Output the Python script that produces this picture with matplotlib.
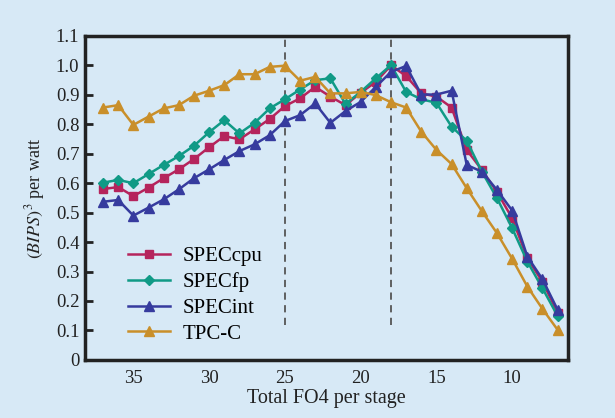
import matplotlib
matplotlib.use("Agg")
import matplotlib.pyplot as plt

# FO4 per stage, 37 down to 7
fo4 = list(range(37, 6, -1))

spec_cpu = [0.580, 0.587, 0.556, 0.585, 0.617, 0.647, 0.682, 0.722, 0.760, 0.749,
            0.783, 0.818, 0.862, 0.888, 0.927, 0.894, 0.865, 0.907, 0.944, 1.000,
            0.964, 0.905, 0.894, 0.857, 0.713, 0.645, 0.570, 0.481, 0.345, 0.265,
            0.160]
spec_fp = [0.602, 0.611, 0.600, 0.631, 0.662, 0.692, 0.727, 0.773, 0.814, 0.769,
           0.805, 0.854, 0.885, 0.918, 0.950, 0.956, 0.869, 0.910, 0.956, 1.001,
           0.910, 0.885, 0.873, 0.792, 0.744, 0.639, 0.549, 0.447, 0.334, 0.243,
           0.149]
spec_int = [0.537, 0.543, 0.490, 0.517, 0.545, 0.579, 0.617, 0.647, 0.679, 0.709,
            0.732, 0.763, 0.811, 0.831, 0.871, 0.805, 0.845, 0.876, 0.927, 0.978,
            0.998, 0.901, 0.901, 0.914, 0.662, 0.639, 0.577, 0.507, 0.351, 0.274,
            0.170]
tpc_c = [0.857, 0.865, 0.798, 0.826, 0.854, 0.865, 0.897, 0.914, 0.933, 0.970,
         0.970, 0.995, 0.999, 0.948, 0.961, 0.905, 0.905, 0.910, 0.899, 0.875,
         0.857, 0.775, 0.713, 0.665, 0.583, 0.505, 0.430, 0.343, 0.249, 0.173,
         0.102]

markers_at = [25, 18]   # dashed guides

BG = "#d7e9f6"
plt.rcParams["font.family"] = ["Liberation Serif", "DejaVu Serif"]
plt.rcParams["mathtext.fontset"] = "stix"

fig = plt.figure(figsize=(6.15, 4.18), dpi=100, facecolor=BG)
ax = fig.add_axes([0.138, 0.139, 0.786, 0.775], facecolor=BG)

for x in markers_at:
    ax.plot([x, x], [0.12, 1.1], ls=(0, (4, 3)), color="#555555", lw=1.3, zorder=1)

ax.plot(fo4, spec_cpu, "-s", color="#b5245c", ms=5.5, lw=1.8, label="SPECcpu")
ax.plot(fo4, spec_fp, "-D", color="#109a86", ms=5, lw=1.8, label="SPECfp")
ax.plot(fo4, spec_int, "-^", color="#363b9e", ms=7.5, lw=1.8, label="SPECint")
ax.plot(fo4, tpc_c, "-^", color="#c98f2a", ms=7.5, lw=1.8, label="TPC-C")

ax.set_xlim(38.2, 6.3)
ax.set_ylim(0, 1.1)
ax.set_xticks([35, 30, 25, 20, 15, 10])
ax.set_yticks([i / 10 for i in range(12)])
ax.set_yticklabels(["0"] + [f"{i / 10:.1f}" for i in range(1, 12)])
ax.tick_params(axis="y", direction="in", length=6, width=2, labelsize=13.5,
               colors="#222222", pad=4)
ax.tick_params(axis="x", length=0, labelsize=13.5, colors="#222222", pad=7)
for s in ax.spines.values():
    s.set_linewidth(2.5)
    s.set_color("#222222")

ax.set_xlabel("Total FO4 per stage", fontsize=14.5, color="#222222", labelpad=2)
ax.set_ylabel(r"$(\mathit{BIPS})^3$ per watt", fontsize=13, color="#222222", labelpad=6)

ax.legend(loc="lower left", bbox_to_anchor=(0.051, -0.008), frameon=False,
          fontsize=15, handlelength=2.0, labelspacing=0.3, handletextpad=0.6)

fig.savefig("out.png", dpi=100, facecolor=BG)
